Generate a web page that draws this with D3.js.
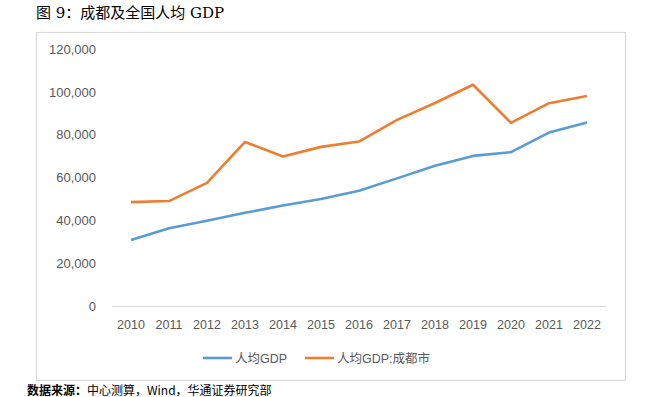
<!DOCTYPE html>
<html>
<head>
<meta charset="utf-8">
<script src="https://cdn.jsdelivr.net/npm/d3@7"></script>
<style>
  body { margin: 0; background: #fff; }
  svg { display: block; }
</style>
</head>
<body>
<div id="chart"></div>
<script>
// data
var years = ["2010", "2011", "2012", "2013", "2014", "2015", "2016",
  "2017", "2018", "2019", "2020", "2021", "2022"];
var gdpChina = [30808, 36277, 39771, 43497, 46912, 49922, 53783,
  59592, 65534, 70078, 71828, 80976, 85698];
var gdpChengdu = [48500, 49000, 57500, 76600, 69800, 74300, 76800,
  86900, 94800, 103300, 85500, 94700, 98100];
var yTicks = [0, 20000, 40000, 60000, 80000, 100000, 120000];
var seriesNames = ["人均GDP", "人均GDP:成都市"];
var colors = ["#5b9bd5", "#ed7d31"];

var width = 661;
var height = 397;
var tickFont = "Liberation Sans, Arial, 'Noto Sans CJK SC', sans-serif";

var svg = d3.select("#chart")
  .append("svg")
  .attr("width", width)
  .attr("height", height);

// title
svg.append("text")
  .attr("x", 36)
  .attr("y", 18)
  .attr("font-family", "'DejaVu Serif', 'Noto Sans CJK SC', serif")
  .attr("font-size", 15)
  .attr("fill", "#000")
  .text("图 9：成都及全国人均 GDP");

// frame of the chart
svg.append("rect")
  .attr("x", 36.5)
  .attr("y", 32.5)
  .attr("width", 589)
  .attr("height", 348)
  .attr("fill", "#fff")
  .attr("stroke", "#d9d9d9")
  .attr("stroke-width", 1.2);

var x = d3.scaleBand()
  .domain(years)
  .range([112, 606]);

var y = d3.scaleLinear()
  .domain([0, 120000])
  .range([306, 49]);

// y axis, labels only
var yAxis = d3.axisLeft(y)
  .tickValues(yTicks)
  .tickSize(0)
  .tickPadding(0)
  .tickFormat(d3.format(","));

svg.append("g")
  .attr("transform", "translate(96,0)")
  .call(yAxis)
  .call(function(g) { g.select(".domain").remove(); })
  .selectAll("text")
  .attr("font-family", tickFont)
  .attr("font-size", 13)
  .attr("fill", "#595959");

// x axis
var xAxis = d3.axisBottom(x).tickSize(0).tickPadding(14);

var gx = svg.append("g")
  .attr("transform", "translate(0," + y(0) + ")")
  .call(xAxis);
gx.select(".domain").attr("stroke", "#d9d9d9").attr("stroke-width", 1.2);
gx.selectAll("text")
  .attr("font-family", tickFont)
  .attr("font-size", 12.5)
  .attr("fill", "#595959");

var line = d3.line()
  .x(function(d, i) { return x(years[i]) + x.bandwidth() / 2; })
  .y(function(d) { return y(d); });

[gdpChina, gdpChengdu].forEach(function(values, i) {
  svg.append("path")
    .datum(values)
    .attr("fill", "none")
    .attr("stroke", colors[i])
    .attr("stroke-width", 2.6)
    .attr("stroke-linejoin", "round")
    .attr("d", line);
});

// legend
var legendX = [203, 305];
for (var i = 0; i < seriesNames.length; i++) {
  svg.append("line")
    .attr("x1", legendX[i])
    .attr("x2", legendX[i] + 29)
    .attr("y1", 358)
    .attr("y2", 358)
    .attr("stroke", colors[i])
    .attr("stroke-width", 2.6);
  svg.append("text")
    .attr("x", legendX[i] + 32)
    .attr("y", 362.5)
    .attr("font-family", tickFont)
    .attr("font-size", 12.5)
    .attr("fill", "#595959")
    .text(seriesNames[i]);
}

// source note along the bottom edge
svg.append("text")
  .attr("x", 27)
  .attr("y", 395)
  .attr("font-family", "'Noto Sans CJK SC', sans-serif")
  .attr("font-size", 12)
  .attr("fill", "#000")
  .html("<tspan font-weight='bold'>数据来源：</tspan>中心测算，Wind，华通证券研究部");
</script>
</body>
</html>
